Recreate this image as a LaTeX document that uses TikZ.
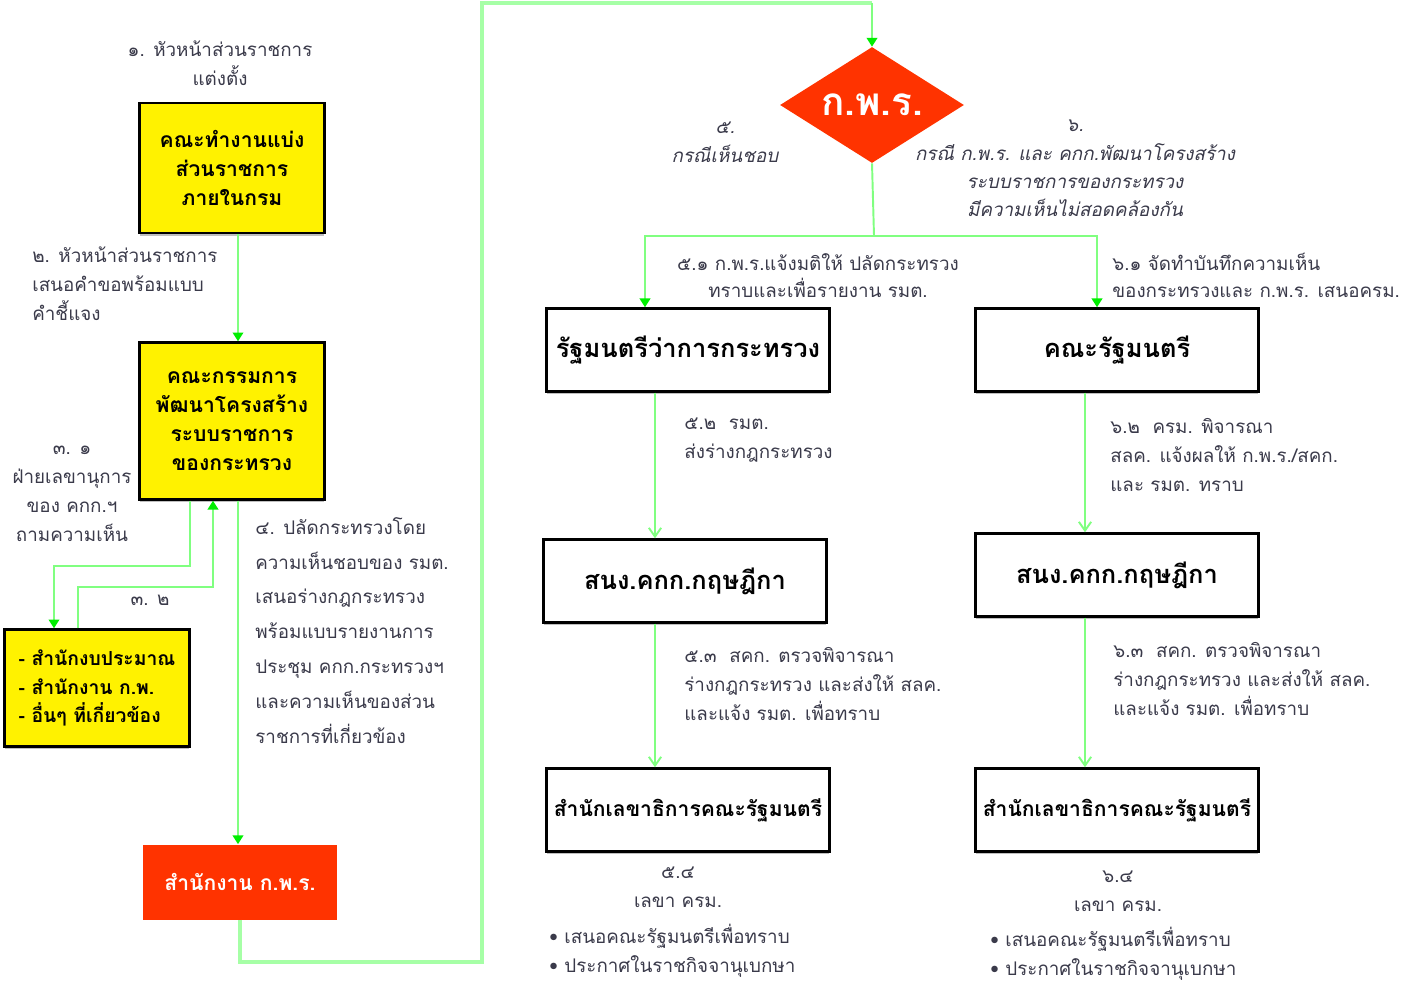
\documentclass[tikz,border=0pt]{standalone}
\usepackage{fontspec}
\newfontfamily\thaifont[Script=Thai]{Loma}
\usetikzlibrary{arrows.meta,shapes.geometric,shadows}
\definecolor{linegreen}{HTML}{80FF80}
\definecolor{tipgreen}{HTML}{00EE00}
\definecolor{opfill}{HTML}{FF3300}
\definecolor{notegray}{HTML}{3A3A4A}
\begin{document}
\begin{tikzpicture}[x=0.02cm,y=-0.02cm,
    ybox/.style={draw=black,line width=1.4pt,fill=yellow,align=center,minimum width=3.7cm,
      font=\thaifont\bfseries\fontsize{12}{16.5}\selectfont,drop shadow={shadow xshift=0pt,shadow yshift=-1.5pt,fill=gray}},
    wbox/.style={draw=black,line width=1.4pt,fill=white,minimum width=5.66cm,minimum height=1.66cm,
      font=\thaifont\bfseries\fontsize{14.5}{16}\selectfont,drop shadow={shadow xshift=0pt,shadow yshift=-1.5pt,fill=gray}},
    note/.style={text=notegray,inner sep=0pt,font=\thaifont\fontsize{10.7}{16.5}\selectfont},
    flow/.style={linegreen,line width=1.1pt,-{Triangle[length=5pt,width=6pt,color=tipgreen]}},
    flowb/.style={linegreen,line width=1.1pt,-{Straight Barb[length=5pt,width=7pt]}},
    link/.style={linegreen!70!white,line width=1.8pt}]
  \useasboundingbox (0,0) rectangle (1415,990);

  % left column
  \node[note,anchor=north,align=center] (n1) at (220,40) {๑. หัวหน้าส่วนราชการ\\แต่งตั้ง};
  \node[ybox,minimum height=2.6cm] (wg) at (232,168) {คณะทำงานแบ่ง\\ส่วนราชการ\\ภายในกรม};
  \node[note,anchor=north west,align=left] (n2) at (32,246) {๒. หัวหน้าส่วนราชการ\\เสนอคำขอพร้อมแบบ\\คำชี้แจง};
  \node[ybox,minimum height=3.14cm] (com) at (232,421) {คณะกรรมการ\\พัฒนาโครงสร้าง\\ระบบราชการ\\ของกระทรวง};
  \node[note,anchor=north,align=center] (n31) at (72,446) {๓. ๑\\ฝ่ายเลขานุการ\\ของ คกก.ฯ\\ถามความเห็น};
  \node[note,anchor=north] (n32) at (150,595) {๓. ๒};
  \node[ybox,minimum height=2.34cm,align=left,font=\thaifont\bfseries\fontsize{11}{16}\selectfont] (ag) at (97,688) {- สำนักงบประมาณ\\- สำนักงาน ก.พ.\\- อื่นๆ ที่เกี่ยวข้อง};
  \node[note,anchor=north west,align=left,font=\thaifont\fontsize{10.7}{19.8}\selectfont] (n4) at (255,517)
    {๔. ปลัดกระทรวงโดย\\ความเห็นชอบของ รมต.\\เสนอร่างกฎกระทรวง\\พร้อมแบบรายงานการ\\ประชุม คกก.กระทรวงฯ\\และความเห็นของส่วน\\ราชการที่เกี่ยวข้อง};
  \node[fill=opfill,text=white,minimum width=3.88cm,minimum height=1.5cm,font=\thaifont\bfseries\fontsize{12}{14}\selectfont] (opdc) at (240,882) {สำนักงาน ก.พ.ร.};

  % decision
  \node[diamond,fill=opfill,text=white,minimum width=3.68cm,minimum height=2.32cm,aspect=1.6,inner sep=0pt,
    font=\thaifont\bfseries\fontsize{22}{24}\selectfont] (kpr) at (872,105) {ก.พ.ร.};
  \node[note,anchor=north,align=center,font=\thaifont\itshape\fontsize{10.7}{16.5}\selectfont] (n5) at (725,122) {๕.\\กรณีเห็นชอบ};
  \node[note,anchor=north,align=center,font=\thaifont\itshape\fontsize{10.7}{16}\selectfont] (n6) at (1075,120)
    {๖.\\กรณี ก.พ.ร. และ คกก.พัฒนาโครงสร้าง\\ระบบราชการของกระทรวง\\มีความเห็นไม่สอดคล้องกัน};

  % branch 5
  \node[note,anchor=north,align=center,font=\thaifont\fontsize{10.7}{15.5}\selectfont] (n51) at (818,253) {๕.๑ ก.พ.ร.แจ้งมติให้ ปลัดกระทรวง\\ทราบและเพื่อรายงาน รมต.};
  \node[wbox] (min) at (688,350) {รัฐมนตรีว่าการกระทรวง};
  \node[note,anchor=north west,align=left] (n52) at (684,418) {๕.๒ \ รมต.\\ส่งร่างกฎกระทรวง};
  \node[wbox] (kfa) at (685,581) {สนง.คกก.กฤษฎีกา};
  \node[note,anchor=north west,align=left] (n53) at (684,647) {๕.๓ \ สคก. ตรวจพิจารณา\\ร่างกฎกระทรวง และส่งให้ สลค.\\และแจ้ง รมต. เพื่อทราบ};
  \node[wbox,font=\thaifont\bfseries\fontsize{12}{14}\selectfont] (soc) at (688,810) {สำนักเลขาธิการคณะรัฐมนตรี};
  \node[note,anchor=north,align=center] (n54) at (678,867) {๕.๔\\เลขา ครม.};
  \node[note,anchor=north west,align=left] (n54b) at (549,924) {• เสนอคณะรัฐมนตรีเพื่อทราบ\\• ประกาศในราชกิจจานุเบกษา};

  % branch 6
  \node[note,anchor=north west,align=left,font=\thaifont\fontsize{10.7}{15.5}\selectfont] (n61) at (1112,253) {๖.๑ จัดทำบันทึกความเห็น\\ของกระทรวงและ ก.พ.ร. เสนอครม.};
  \node[wbox] (cab) at (1117,350) {คณะรัฐมนตรี};
  \node[note,anchor=north west,align=left] (n62) at (1110,418) {๖.๒ \ ครม. พิจารณา\\สลค. แจ้งผลให้ ก.พ.ร./สคก.\\และ รมต. ทราบ};
  \node[wbox] (kfb) at (1117,575) {สนง.คกก.กฤษฎีกา};
  \node[note,anchor=north west,align=left] (n63) at (1113,642) {๖.๓ \ สคก. ตรวจพิจารณา\\ร่างกฎกระทรวง และส่งให้ สลค.\\และแจ้ง รมต. เพื่อทราบ};
  \node[wbox,font=\thaifont\bfseries\fontsize{12}{14}\selectfont] (socb) at (1117,810) {สำนักเลขาธิการคณะรัฐมนตรี};
  \node[note,anchor=north,align=center] (n64) at (1118,871) {๖.๔\\เลขา ครม.};
  \node[note,anchor=north west,align=left] (n64b) at (990,927) {• เสนอคณะรัฐมนตรีเพื่อทราบ\\• ประกาศในราชกิจจานุเบกษา};

  % connectors
  \draw[flow] (wg.south -| 238,0) -- (com.north -| 238,0);
  \draw[flow] (com.south -| 190,0) -- (190,566) -- (54,566) -- (ag.north -| 54,0);
  \draw[flow] (ag.north -| 78,0) -- (78,587) -- (213,587) -- (com.south -| 213,0);
  \draw[flow] (com.south -| 238,0) -- (opdc.north -| 238,0);
  \draw[link] (opdc.south) -- (240,962) -- (482,962) -- (482,3) -- (872,3);
  \draw[flow] (872,3) -- (kpr.north);
  \draw[flow] (kpr.south) -- (874,236) -| (min.north -| 645,0);
  \draw[flow] (874,236) -| (cab.north -| 1097,0);
  \draw[flowb] (min.south -| 655,0) -- (kfa.north -| 655,0);
  \draw[flowb] (kfa.south -| 655,0) -- (soc.north -| 655,0);
  \draw[flowb] (cab.south -| 1085,0) -- (kfb.north -| 1085,0);
  \draw[flowb] (kfb.south -| 1085,0) -- (socb.north -| 1085,0);
\end{tikzpicture}
\end{document}
